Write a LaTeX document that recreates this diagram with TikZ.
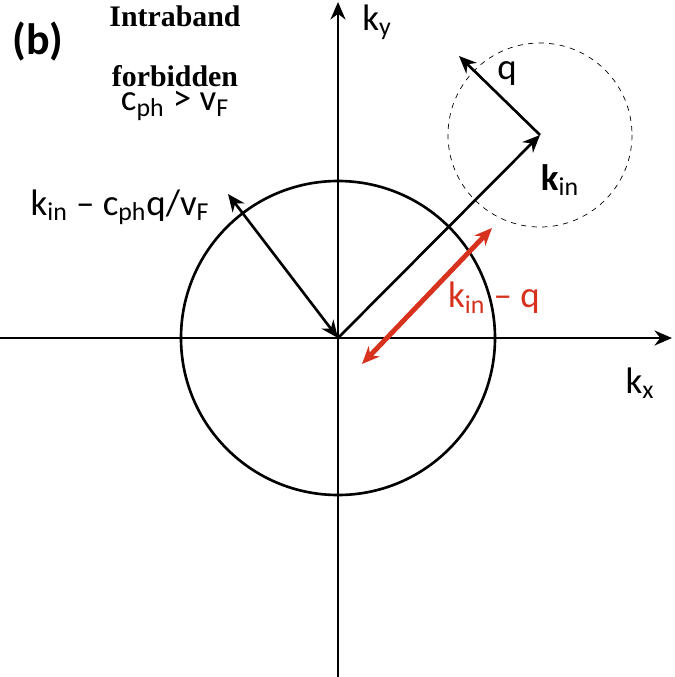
\documentclass[tikz,border=0pt]{standalone}
\usepackage{fontspec}
\setmainfont{Carlito}
\newfontfamily\titlefont{Liberation Serif}
\usetikzlibrary{arrows.meta}
\definecolor{kqred}{RGB}{215,50,30}
\begin{document}
\begin{tikzpicture}[x=0.02cm, y=-0.02cm,
    vec/.style={-{Stealth[length=3.5mm, width=3mm]}, line width=1.5pt},
    dvec/.style={{Stealth[length=3.5mm, width=3mm]}-{Stealth[length=3.5mm, width=3mm]}, line width=1.5pt},
    lbl/.style={font=\fontsize{21}{23}\selectfont, inner sep=1pt}
]
\useasboundingbox (0,0) rectangle (675,677);

% axes
\coordinate (o) at (338,338);
\coordinate (xl) at (0,338);
\coordinate (xr) at (672,338);
\coordinate (yb) at (338,677);
\coordinate (yt) at (338,2);
\draw[vec] (xl) -- (xr);
\draw[vec] (yb) -- (yt);
\node[lbl] (kx) at (640,383) {k$_\mathrm{x}$};
\node[lbl] (ky) at (377,22) {k$_\mathrm{y}$};

% Fermi circle and shifted circle
\draw[line width=1.5pt] (o) circle[radius=157];
\coordinate (kin) at (540,135);
\draw[dashed, thin] (kin) circle[radius=92];

% vectors
\coordinate (qend) at (459,56);
\coordinate (kc) at (228,194);
\coordinate (ra) at (362,364);
\coordinate (rb) at (492,228);
\draw[vec] (o) -- (kin);
\draw[vec] (kin) -- (qend);
\draw[dvec] (o) -- (kc);
\draw[dvec, kqred, line width=2.8pt] (ra) -- (rb);

% labels
\node[lbl] (q) at (507,74) {q};
\node[lbl] (kinl) at (560,180) {\textbf{k}$_\mathrm{in}$};
\node[lbl] (kcl) at (120,207) {k$_\mathrm{in}$ -- c$_\mathrm{ph}$q/v$_\mathrm{F}$};
\node[lbl, text=kqred] (kql) at (494,298) {k$_\mathrm{in}$ -- q};
\node[lbl, font=\fontsize{25}{27}\selectfont\bfseries] (b) at (38,42) {(b)};
\node[align=center, font=\titlefont\fontsize{17}{34}\selectfont\bfseries] (title) at (175,46) {Intraband\\forbidden};
\node[lbl] (cond) at (175,106) {c$_\mathrm{ph}$ > v$_\mathrm{F}$};
\end{tikzpicture}
\end{document}
